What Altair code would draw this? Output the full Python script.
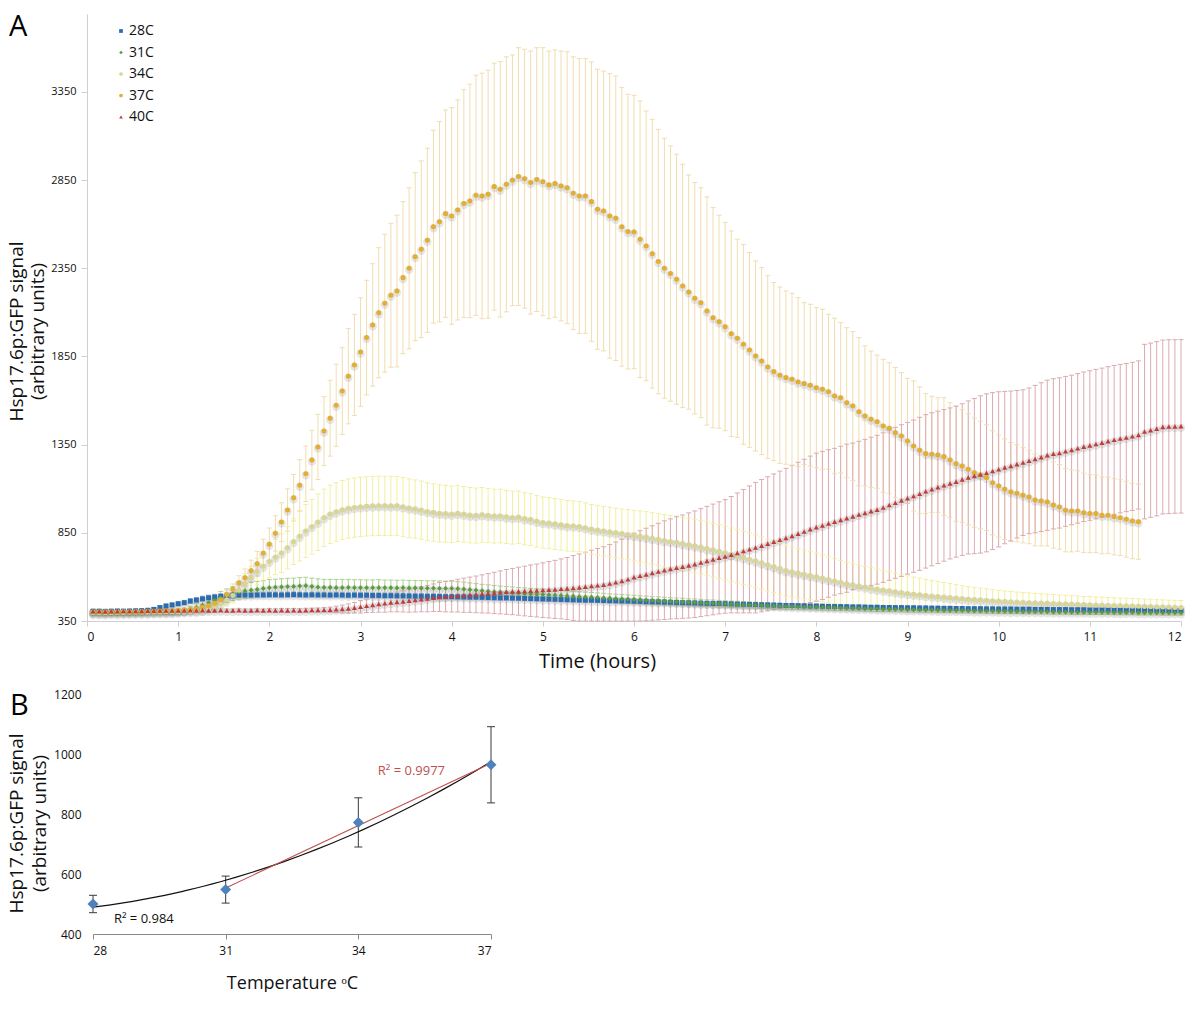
import altair as alt
import pandas as pd

FONT = "Open Sans"

# ---------------- Panel A data (one reading every 4 minutes) ----------------
SERIES = ["28C", "31C", "34C", "37C", "40C"]
MINUTES_PER_READING = 4

MEAN_28C = [
    406, 406, 405, 406, 407, 406, 407, 408, 409, 411, 416, 426, 435, 441, 448,
    454, 463, 469, 476, 482, 486, 490, 492, 494, 496, 497, 497, 498, 498, 499,
    499, 498, 499, 500, 499, 498, 499, 498, 498, 497, 498, 497, 496, 497, 496,
    496, 495, 495, 494, 494, 493, 493, 492, 491, 491, 490, 490, 489, 488, 488,
    487, 486, 485, 485, 484, 483, 482, 481, 481, 480, 479, 478, 477, 476, 475,
    474, 473, 472, 471, 470, 469, 468, 468, 467, 466, 465, 465, 464, 463, 462,
    461, 460, 459, 458, 457, 456, 455, 454, 453, 452, 451, 450, 449, 449, 448,
    447, 446, 445, 444, 443, 442, 441, 440, 439, 438, 438, 437, 436, 435, 435,
    434, 433, 432, 432, 431, 430, 430, 429, 428, 428, 427, 427, 426, 426, 425,
    425, 424, 424, 423, 423, 422, 422, 421, 421, 420, 420, 420, 419, 419, 418,
    418, 418, 417, 417, 417, 416, 416, 416, 415, 415, 415, 414, 414, 414, 413,
    413, 413, 413, 412, 412, 412, 412, 411, 411, 411, 411, 410, 410, 410, 410,
]
ERR_28C = [
    8, 8, 8, 8, 8, 8, 8, 8, 8, 9, 10, 11, 12, 12, 13,
    13, 14, 14, 15, 15, 15, 16, 16, 16, 16, 16, 16, 16, 16, 16,
    16, 16, 16, 16, 16, 16, 16, 16, 16, 16, 16, 16, 16, 16, 16,
    16, 16, 16, 16, 15, 15, 15, 15, 15, 15, 15, 15, 15, 15, 15,
    15, 15, 15, 15, 15, 15, 15, 14, 14, 14, 14, 14, 14, 14, 14,
    14, 14, 14, 14, 14, 14, 13, 13, 13, 13, 13, 13, 13, 13, 13,
    13, 13, 13, 13, 13, 12, 12, 12, 12, 12, 12, 12, 12, 12, 12,
    12, 12, 12, 12, 12, 12, 12, 12, 11, 11, 11, 11, 11, 11, 11,
    11, 11, 11, 11, 11, 11, 11, 11, 11, 11, 11, 11, 11, 11, 11,
    11, 11, 11, 11, 10, 10, 10, 10, 10, 10, 10, 10, 10, 10, 10,
    10, 10, 10, 10, 10, 10, 10, 10, 10, 10, 10, 10, 10, 10, 10,
    10, 10, 10, 10, 10, 10, 10, 10, 10, 10, 10, 10, 10, 10, 10,
]

MEAN_31C = [
    392, 391, 391, 392, 391, 392, 392, 393, 393, 394, 395, 396, 397, 397, 400,
    407, 415, 426, 440, 454, 468, 482, 494, 505, 513, 520, 525, 529, 534, 539,
    541, 543, 545, 546, 548, 550, 546, 542, 540, 540, 539, 539, 540, 539, 539,
    538, 538, 539, 538, 538, 537, 538, 537, 537, 536, 536, 536, 535, 535, 535,
    533, 530, 527, 524, 521, 518, 515, 513, 511, 509, 507, 505, 503, 501, 500,
    498, 496, 494, 492, 490, 488, 486, 485, 483, 481, 479, 477, 475, 474, 472,
    470, 468, 466, 465, 463, 461, 459, 458, 456, 455, 453, 451, 450, 448, 447,
    445, 444, 442, 441, 440, 438, 437, 436, 434, 433, 432, 431, 430, 429, 428,
    427, 426, 425, 424, 423, 422, 421, 420, 419, 418, 417, 417, 416, 415, 414,
    414, 413, 412, 412, 411, 410, 410, 409, 409, 408, 407, 407, 406, 406, 405,
    405, 404, 404, 403, 403, 403, 402, 402, 401, 401, 401, 400, 400, 400, 399,
    399, 399, 399, 398, 398, 398, 398, 397, 397, 397, 397, 396, 396, 396, 396,
]
ERR_31C = [
    8, 8, 8, 8, 8, 8, 8, 8, 8, 8, 9, 10, 11, 12, 13,
    15, 18, 22, 26, 30, 33, 36, 38, 40, 42, 43, 44, 45, 45, 46,
    46, 47, 47, 47, 48, 48, 47, 47, 46, 46, 46, 46, 46, 45, 45,
    45, 45, 45, 44, 44, 44, 44, 43, 43, 43, 42, 42, 42, 41, 41,
    40, 40, 39, 38, 37, 37, 36, 35, 34, 34, 33, 33, 32, 31, 31,
    30, 30, 29, 29, 28, 28, 27, 27, 26, 26, 25, 25, 25, 24, 24,
    23, 23, 22, 22, 22, 21, 21, 21, 20, 20, 20, 19, 19, 19, 18,
    18, 18, 17, 17, 17, 17, 16, 16, 16, 16, 16, 15, 15, 15, 15,
    15, 15, 15, 14, 14, 14, 14, 14, 14, 14, 13, 13, 13, 13, 13,
    13, 13, 13, 13, 13, 12, 12, 12, 12, 12, 12, 12, 12, 12, 12,
    12, 12, 12, 12, 12, 12, 12, 12, 12, 12, 12, 12, 12, 12, 12,
    12, 12, 12, 12, 12, 12, 12, 12, 12, 12, 12, 12, 12, 12, 12,
]

MEAN_34C = [
    398, 397, 397, 398, 398, 398, 399, 399, 400, 400, 401, 401, 402, 403, 403,
    404, 404, 405, 410, 420, 432, 448, 470, 495, 525, 560, 595, 630, 660, 688,
    712, 735, 765, 800, 830, 860, 885, 910, 935, 955, 968, 980, 988, 993, 997,
    1000, 1002, 1003, 1003, 1002, 1003, 997, 990, 985, 978, 970, 965, 960, 958, 955,
    960, 955, 950, 948, 952, 948, 945, 945, 940, 936, 938, 930, 925, 915, 908,
    905, 900, 895, 890, 888, 885, 878, 870, 865, 860, 855, 850, 845, 840, 835,
    830, 825, 818, 812, 805, 800, 795, 788, 782, 775, 768, 760, 752, 744, 735,
    726, 717, 708, 699, 690, 679, 668, 657, 646, 635, 628, 621, 614, 607, 600,
    592, 584, 576, 568, 560, 554, 548, 542, 536, 530, 525, 520, 515, 510, 505,
    501, 498, 494, 491, 488, 485, 482, 479, 476, 473, 471, 469, 466, 464, 462,
    460, 458, 456, 455, 453, 452, 451, 450, 448, 447, 446, 445, 444, 442, 441,
    440, 439, 438, 437, 436, 435, 434, 433, 432, 431, 430, 429, 428, 427, 426,
]
ERR_34C = [
    10, 10, 10, 10, 10, 10, 10, 10, 10, 10, 10, 10, 10, 10, 10,
    10, 11, 12, 14, 18, 22, 28, 35, 42, 50, 58, 66, 75, 84, 92,
    100, 110, 120, 130, 140, 150, 155, 160, 163, 165, 166, 167, 168, 168, 168,
    168, 168, 168, 168, 168, 167, 167, 166, 165, 165, 164, 163, 162, 161, 160,
    159, 158, 157, 156, 155, 154, 153, 152, 151, 150, 149, 148, 147, 146, 145,
    145, 144, 144, 143, 143, 142, 142, 141, 141, 140, 140, 140, 141, 142, 143,
    144, 145, 146, 147, 148, 149, 150, 150, 151, 151, 152, 152, 152, 152, 152,
    151, 151, 150, 150, 149, 148, 147, 146, 145, 144, 142, 140, 138, 136, 134,
    132, 130, 128, 126, 124, 122, 120, 118, 116, 114, 112, 110, 107, 104, 101,
    98, 95, 92, 89, 86, 83, 80, 77, 74, 72, 70, 68, 66, 64, 62,
    60, 59, 58, 57, 56, 55, 54, 53, 52, 51, 50, 49, 48, 47, 47,
    46, 46, 45, 45, 44, 44, 43, 43, 42, 42, 41, 41, 40, 40, 40,
]

MEAN_37C = [
    403, 403, 402, 403, 403, 404, 403, 404, 404, 405, 405, 406, 407, 408, 410,
    412, 415, 420, 428, 437, 450, 470, 500, 530, 567, 595, 635, 675, 734, 785,
    847, 911, 979, 1049, 1120, 1185, 1263, 1337, 1427, 1500, 1573, 1654, 1738, 1802, 1875,
    1957, 2029, 2098, 2152, 2197, 2221, 2297, 2350, 2416, 2458, 2509, 2586, 2614, 2660, 2647,
    2681, 2717, 2732, 2764, 2760, 2770, 2813, 2798, 2826, 2849, 2870, 2858, 2836, 2853, 2841,
    2823, 2830, 2817, 2807, 2776, 2760, 2760, 2728, 2685, 2675, 2647, 2634, 2585, 2558, 2556,
    2515, 2477, 2433, 2388, 2350, 2320, 2288, 2250, 2215, 2180, 2155, 2108, 2070, 2047, 2019,
    1979, 1953, 1919, 1887, 1853, 1824, 1790, 1764, 1744, 1730, 1721, 1705, 1696, 1687, 1673,
    1664, 1650, 1626, 1616, 1588, 1569, 1537, 1513, 1494, 1480, 1456, 1443, 1418, 1399, 1371,
    1342, 1318, 1299, 1295, 1291, 1282, 1263, 1242, 1229, 1210, 1191, 1178, 1163, 1134, 1116,
    1097, 1082, 1074, 1063, 1053, 1036, 1031, 1025, 1008, 997, 978, 974, 974, 964, 959,
    959, 949, 949, 941, 936, 927, 917, 913,
]
ERR_37C = [
    10, 10, 10, 10, 10, 10, 10, 10, 10, 10, 10, 10, 10, 10, 12,
    12, 13, 14, 15, 17, 19, 20, 25, 30, 40, 50, 60, 70, 80, 92,
    100, 110, 120, 132, 145, 157, 168, 185, 195, 215, 233, 246, 270, 287, 308,
    325, 347, 369, 391, 408, 430, 431, 457, 476, 501, 522, 547, 568, 588, 614,
    624, 646, 662, 681, 696, 703, 700, 724, 723, 711, 731, 734, 746, 748, 760,
    759, 758, 765, 771, 773, 779, 779, 792, 794, 793, 807, 807, 790, 779, 775,
    784, 765, 762, 750, 737, 724, 709, 690, 664, 656, 652, 647, 624, 604, 590,
    583, 562, 567, 552, 539, 530, 518, 505, 500, 491, 487, 478, 459, 459, 454,
    454, 439, 441, 426, 425, 422, 420, 397, 387, 378, 378, 372, 369, 359, 355,
    369, 359, 340, 329, 325, 334, 325, 327, 320, 315, 310, 305, 300, 295, 290,
    285, 280, 275, 270, 265, 260, 255, 250, 245, 240, 236, 232, 228, 225, 222,
    220, 218, 217, 216, 215, 215, 214, 213,
]

MEAN_40C = [
    405, 405, 404, 405, 405, 406, 406, 407, 407, 408, 408, 409, 409, 410, 410,
    410, 411, 410, 411, 410, 410, 411, 410, 410, 411, 410, 410, 411, 410, 411,
    410, 411, 410, 411, 410, 411, 412, 412, 413, 414, 416, 418, 421, 425, 430,
    436, 441, 446, 450, 455, 458, 461, 465, 469, 473, 477, 482, 486, 488, 490,
    494, 496, 499, 501, 504, 507, 509, 512, 515, 517, 519, 520, 522, 523, 525,
    527, 529, 532, 534, 537, 540, 544, 548, 552, 556, 562, 569, 577, 586, 598,
    606, 614, 622, 630, 638, 645, 652, 658, 665, 672, 681, 690, 699, 708, 716,
    726, 736, 746, 756, 766, 777, 788, 799, 810, 821, 832, 845, 857, 870, 882,
    892, 903, 913, 923, 933, 943, 953, 962, 972, 981, 993, 1007, 1020, 1033, 1046,
    1058, 1071, 1085, 1097, 1108, 1119, 1130, 1140, 1152, 1164, 1172, 1181, 1190, 1200, 1210,
    1220, 1229, 1239, 1248, 1258, 1268, 1279, 1290, 1298, 1303, 1312, 1320, 1329, 1338, 1345,
    1353, 1361, 1369, 1377, 1384, 1390, 1397, 1405, 1424, 1432, 1440, 1450, 1452, 1453, 1454,
]
ERR_40C = [
    6, 6, 6, 6, 6, 6, 6, 6, 6, 6, 6, 6, 6, 6, 6,
    6, 6, 7, 7, 7, 7, 7, 8, 8, 8, 8, 8, 8, 8, 9,
    9, 9, 10, 10, 10, 11, 11, 12, 14, 15, 18, 22, 26, 30, 35,
    38, 42, 46, 50, 53, 56, 60, 65, 68, 71, 75, 78, 82, 86, 89,
    93, 97, 100, 104, 108, 112, 117, 122, 127, 131, 136, 141, 146, 150, 155,
    160, 165, 170, 176, 184, 190, 196, 203, 209, 215, 222, 229, 236, 243, 250,
    256, 262, 268, 274, 280, 284, 289, 293, 298, 302, 306, 310, 314, 318, 322,
    330, 340, 350, 360, 370, 375, 380, 385, 390, 395, 400, 405, 410, 415, 420,
    420, 418, 416, 418, 420, 416, 416, 418, 420, 422, 424, 426, 428, 430, 430,
    432, 434, 435, 434, 432, 430, 428, 428, 430, 434, 440, 446, 448, 445, 440,
    432, 425, 418, 413, 413, 418, 422, 426, 426, 426, 425, 424, 424, 424, 424,
    424, 423, 423, 422, 421, 420, 420, 420, 495, 494, 494, 493, 493, 492, 492,
]

MARK_COLORS = ["#2b6cb0", "#5a9c3c", "#d9d693", "#e2ae34", "#c23b3b"]
ERR_COLORS = ["#a9c6e8", "#a9d18e", "#f3ef9e", "#f1ddae", "#dcaab0"]
SHAPES = ["square", "diamond", "circle", "circle", "triangle-up"]
SIZES = [24, 26, 24, 32, 12]

Y_TICKS_A = [350, 850, 1350, 1850, 2350, 2850, 3350]
X_TICKS_A = list(range(13))

# ---------------- Panel B data ----------------
TEMPS = [28, 31, 34, 37]
SIGNAL = [500, 548, 772, 964]
SIGNAL_ERR = [29, 45, 82, 127]
Y_TICKS_B = [400, 600, 800, 1000, 1200]
R2_POLY = "R² = 0.984"
R2_LIN = "R² = 0.9977"

# ---------------- build table ----------------
means = dict(zip(SERIES, [MEAN_28C, MEAN_31C, MEAN_34C, MEAN_37C, MEAN_40C]))
errs = dict(zip(SERIES, [ERR_28C, ERR_31C, ERR_34C, ERR_37C, ERR_40C]))
rows = []
for si, s in enumerate(SERIES):
    for k, (m, e) in enumerate(zip(means[s], errs[s]), start=1):
        rows.append({"series": s, "sidx": si, "time": k * MINUTES_PER_READING / 60.0,
                     "mean": m, "lo": m - e, "hi": m + e})
ts = pd.DataFrame(rows)

Y_TITLE = ["Hsp17.6p:GFP signal", "(arbitrary units)"]

xa = alt.X("time:Q", scale=alt.Scale(domain=[0, 12], nice=False, zero=False),
           axis=alt.Axis(title="Time (hours)", values=X_TICKS_A, format="d", grid=False,
                         domainColor="#cfcfcf", tickColor="#cfcfcf", tickSize=5,
                         labelFontSize=12, labelPadding=5, labelColor="#111",
                         titleFontSize=20, titleFontWeight="normal", titleColor="#111",
                         titleX=510, titleY=30, titleBaseline="top"))
ya_scale = alt.Scale(domain=[350, 3792], nice=False, zero=False, clamp=True)
ya_axis = alt.Axis(title=Y_TITLE, values=Y_TICKS_A, format="d", grid=False,
                   domainColor="#cfcfcf", tickColor="#cfcfcf", tickSize=6,
                   labelFontSize=11, labelPadding=5, labelColor="#111",
                   titleFontSize=19, titleFontWeight="normal", titleColor="#111",
                   titleAngle=-90, titleX=-65, titleY=317, titleAlign="center",
                   titleBaseline="alphabetic", titleLineHeight=21)

base = alt.Chart(ts)
err_stroke = alt.Stroke("series:N", scale=alt.Scale(domain=SERIES, range=ERR_COLORS), legend=None)

stems = base.mark_rule(strokeWidth=1).encode(
    x=xa, y=alt.Y("lo:Q", scale=ya_scale, axis=ya_axis), y2="hi:Q", stroke=err_stroke)
cap_hi = base.mark_point(shape="M-1,0H1", filled=False, size=25, strokeWidth=1, opacity=1).encode(
    x=xa, y=alt.Y("hi:Q", scale=ya_scale, axis=ya_axis), stroke=err_stroke)
cap_lo = base.mark_point(shape="M-1,0H1", filled=False, size=25, strokeWidth=1, opacity=1).encode(
    x=xa, y=alt.Y("lo:Q", scale=ya_scale, axis=ya_axis), stroke=err_stroke)
halo = base.mark_point(filled=True, color="#8f8f8f", opacity=0.22, size=70, shape="circle").encode(
    x=xa, y=alt.Y("mean:Q", scale=ya_scale, axis=ya_axis), yOffset=alt.value(1.5))

points = base.mark_point(filled=True, opacity=1, strokeWidth=0).encode(
    x=xa, y=alt.Y("mean:Q", scale=ya_scale, axis=ya_axis),
    color=alt.Color("series:N", scale=alt.Scale(domain=SERIES, range=MARK_COLORS), legend=None),
    shape=alt.Shape("series:N", scale=alt.Scale(domain=SERIES, range=SHAPES), legend=None),
    size=alt.Size("series:N", scale=alt.Scale(domain=SERIES, range=SIZES), legend=None),
    order=alt.Order("sidx:Q"),
)

# legend drawn from the series list (inside the plot, top-left)
legend_layers = []
for i, s in enumerate(SERIES):
    d = pd.DataFrame({"label": [s]})
    legend_layers.append(
        alt.Chart(d).mark_point(filled=True, shape=SHAPES[i], color=MARK_COLORS[i], size=14,
                                opacity=1, strokeWidth=0).encode(
            x=alt.value(34), y=alt.value(17 + 21.5 * i)))
    legend_layers.append(
        alt.Chart(d).mark_text(align="left", baseline="middle", fontSize=14, font=FONT,
                               color="#111").encode(
            x=alt.value(42), y=alt.value(17 + 21.5 * i), text="label:N"))

letter_a = alt.Chart(pd.DataFrame({"label": ["A"]})).mark_text(
    fontSize=29, font=FONT, align="left", baseline="alphabetic", color="#000").encode(
    x=alt.value(-78), y=alt.value(22), text="label:N")

chart_a = alt.layer(stems, cap_hi, cap_lo, halo, points, letter_a, *legend_layers).properties(
    width=1094, height=607)

# ---------------- Panel B ----------------
bdf = pd.DataFrame({"temp": TEMPS, "signal": SIGNAL, "err": SIGNAL_ERR})
bdf["lo"] = bdf["signal"] - bdf["err"]
bdf["hi"] = bdf["signal"] + bdf["err"]

xb = alt.X("temp:Q", scale=alt.Scale(domain=[28, 37], nice=False, zero=False),
           axis=alt.Axis(title="Temperature ᵒC", values=TEMPS, format="d", grid=False,
                         domainColor="#8a8a8a", tickColor="#8a8a8a", tickSize=5,
                         labelFontSize=12, labelPadding=6, labelColor="#111",
                         titleFontSize=18, titleFontWeight="normal", titleColor="#111",
                         titleY=40, titleBaseline="top"))
yb_scale = alt.Scale(domain=[400, 1200], nice=False, zero=False)
yb_axis = alt.Axis(title=Y_TITLE, values=Y_TICKS_B, format="d", grid=False,
                   domain=False, ticks=False, tickSize=0, labelPadding=12,
                   labelFontSize=12, labelColor="#111",
                   titleFontSize=19, titleFontWeight="normal", titleColor="#111",
                   titleAngle=-90, titleX=-71, titleY=129, titleAlign="center",
                   titleBaseline="alphabetic", titleLineHeight=23)

bbase = alt.Chart(bdf)
b_stem = bbase.mark_rule(color="#3a3a3a", strokeWidth=1).encode(
    x=xb, y=alt.Y("lo:Q", scale=yb_scale, axis=yb_axis), y2="hi:Q")
b_cap_hi = bbase.mark_point(shape="M-1,0H1", filled=False, size=64, strokeWidth=1, color="#3a3a3a", opacity=1).encode(
    x=xb, y=alt.Y("hi:Q", scale=yb_scale, axis=yb_axis))
b_cap_lo = bbase.mark_point(shape="M-1,0H1", filled=False, size=64, strokeWidth=1, color="#3a3a3a", opacity=1).encode(
    x=xb, y=alt.Y("lo:Q", scale=yb_scale, axis=yb_axis))
b_poly = bbase.transform_regression("temp", "signal", method="poly", order=2, extent=[28, 37]).mark_line(
    color="#111111", strokeWidth=1.2).encode(x=xb, y=alt.Y("signal:Q", scale=yb_scale, axis=yb_axis))
b_lin = bbase.transform_filter("datum.temp >= 31").transform_regression(
    "temp", "signal", method="linear", extent=[31, 37]).mark_line(
    color="#c0504d", strokeWidth=1.1).encode(x=xb, y=alt.Y("signal:Q", scale=yb_scale, axis=yb_axis))
b_pts = bbase.mark_point(shape="diamond", filled=True, color="#4f81bd", size=120, opacity=1).encode(
    x=xb, y=alt.Y("signal:Q", scale=yb_scale, axis=yb_axis))

ann_poly = alt.Chart(pd.DataFrame({"temp": [29.15], "signal": [450], "label": [R2_POLY]})).mark_text(
    fontSize=13, font=FONT, color="#111111").encode(
    x=xb, y=alt.Y("signal:Q", scale=yb_scale, axis=yb_axis), text="label:N")
ann_lin = alt.Chart(pd.DataFrame({"temp": [35.2], "signal": [943], "label": [R2_LIN]})).mark_text(
    fontSize=13, font=FONT, color="#c0504d").encode(
    x=xb, y=alt.Y("signal:Q", scale=yb_scale, axis=yb_axis), text="label:N")
letter_b = alt.Chart(pd.DataFrame({"label": ["B"]})).mark_text(
    fontSize=29, font=FONT, align="left", baseline="alphabetic", color="#000").encode(
    x=alt.value(-83), y=alt.value(21), text="label:N")

chart_b = alt.layer(b_stem, b_cap_hi, b_cap_lo, b_poly, b_lin, b_pts, ann_poly, ann_lin, letter_b).properties(
    width=398, height=240)

spacer = alt.Chart(pd.DataFrame({"v": [0]})).mark_point(opacity=0).encode(
    x=alt.value(0), y=alt.value(0)).properties(width=6, height=240)

row_b = alt.hconcat(spacer, chart_b, spacing=0, bounds="flush")

chart = alt.vconcat(chart_a, row_b, spacing=73, bounds="flush").properties(
    padding={"left": -2, "top": 5, "right": 0, "bottom": 0}
).configure(font=FONT).configure_view(stroke=None)

chart.save("out.html", embed_options={"renderer": "svg", "actions": False})
